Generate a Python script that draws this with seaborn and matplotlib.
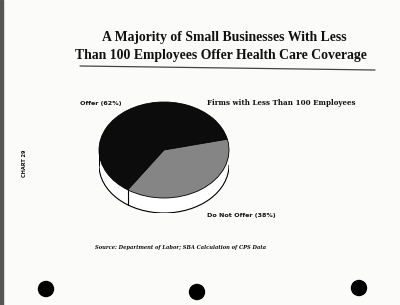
import numpy as np
import matplotlib
matplotlib.use("Agg")
import matplotlib.pyplot as plt
from matplotlib.patches import Ellipse, Rectangle
import seaborn as sns

sns.set_style("white")
plt.rcParams['font.family'] = ['DejaVu Sans']

categories = ["Offer", "Do Not Offer"]
values = [62, 38]
slice_colors = ["#0c0c0c", "#858585"]
labels = ["Offer (62%)", "Do Not Offer (38%)"]
title_lines = ["A Majority of Small Businesses With Less",
               "Than 100 Employees Offer Health Care Coverage"]
subtitle = "Firms with Less Than 100 Employees"
source = "Source: Department of Labor; SBA Calculation of CPS Data"
chart_no = "CHART 29"

W, H = 400, 305
fig = plt.figure(figsize=(W / 100, H / 100), dpi=100)
fig.patch.set_facecolor("#fbfbf9")

def fx(px):
    return px / W

def fy(py):
    return 1 - py / H

# pie axes: top face ellipse rx=65px, ry=48px, rim depth 15px
rx, ry, depth = 65, 48, 15
cx, cy = 164, 150
d = depth / ry
ax = fig.add_axes([fx(cx - rx), fy(cy + ry + depth), 2 * rx / W, (2 * ry + depth) / H])
ax.set_facecolor("none")

# rim
ax.add_patch(Ellipse((0, -d), 2, 2, facecolor="white", edgecolor="black", lw=0.8, zorder=1))
ax.add_patch(Rectangle((-1, -d), 2, d, facecolor="white", edgecolor="none", zorder=1.5))
ax.plot([-1, -1], [0, -d], color="black", lw=0.8, zorder=1.6)
ax.plot([1, 1], [0, -d], color="black", lw=0.8, zorder=1.6)

wedges, _ = ax.pie(values, colors=slice_colors, startangle=13, counterclock=True,
                   radius=1, center=(0, 0),
                   wedgeprops=dict(edgecolor="black", linewidth=0.6))
for w in wedges:
    w.set_zorder(3)
# divider on front rim at boundary of slices
theta = np.deg2rad(wedges[1].theta1)
ax.plot([np.cos(theta)] * 2, [np.sin(theta), np.sin(theta) - d], color="black", lw=0.8, zorder=2)

ax.set_aspect("auto")
ax.set_xlim(-1.0, 1.0)
ax.set_ylim(-1 - d, 1)
ax.axis("off")

title_font = ["Liberation Serif", "DejaVu Serif"]
serif = ["DejaVu Serif"]
fig.text(fx(224), fy(37), title_lines[0], ha="center", va="center",
         fontsize=9.9, fontweight="bold", family=title_font, color="#111111")
fig.text(fx(221), fy(56), title_lines[1], ha="center", va="center",
         fontsize=9.9, fontweight="bold", family=title_font, color="#111111")
# rule under title
fig.add_artist(plt.Line2D([fx(80), fx(375)], [fy(66), fy(70)], color="#444444", lw=0.9))

fig.text(fx(207), fy(103), subtitle, ha="left", va="center",
         fontsize=5.1, fontweight="bold", family=serif, color="#111111")
fig.text(fx(80), fy(104), labels[0], ha="left", va="center",
         fontsize=4.6, fontweight="bold", color="#111111")
fig.text(fx(207), fy(216), labels[1], ha="left", va="center",
         fontsize=4.6, fontweight="bold", color="#111111")
fig.text(fx(95), fy(248), source, ha="left", va="center",
         fontsize=3.7, fontweight="bold", style="italic", family=serif, color="#111111")
fig.text(fx(24), fy(163), chart_no, ha="center", va="center", rotation=90,
         fontsize=3.6, fontweight="bold", color="#111111")

# scan artifacts: punch holes and left edge shadow
for (px, py) in [(46, 289), (197, 292), (359, 288)]:
    fig.add_artist(Ellipse((fx(px), fy(py)), 15 / W, 15 / H, color="black",
                           transform=fig.transFigure))
fig.add_artist(Rectangle((0, 0), 3 / W, 1, color="#555555", transform=fig.transFigure))

fig.savefig("out.png", dpi=100, facecolor=fig.get_facecolor())
